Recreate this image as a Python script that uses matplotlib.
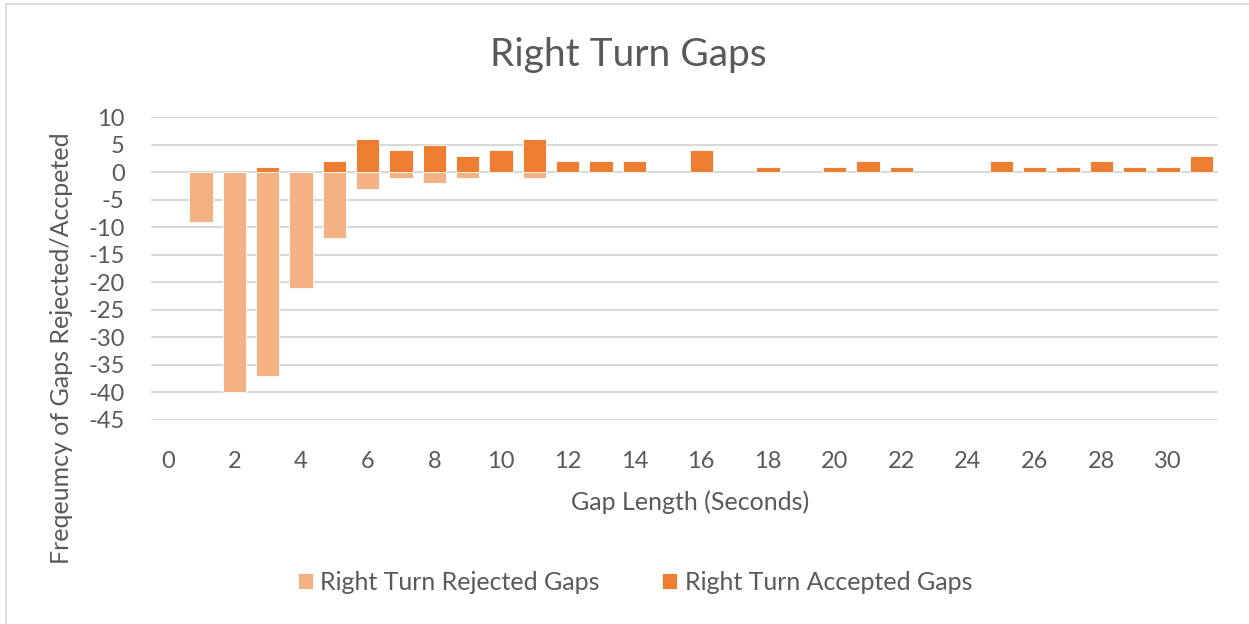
import numpy as np
import matplotlib.pyplot as plt
from matplotlib.lines import Line2D

plt.rcParams['font.family'] = ['Lato', 'DejaVu Sans']
plt.rcParams['axes.unicode_minus'] = False

# gap length categories 0..31 seconds
gaps = list(range(32))
rejected = [0, -9, -40, -37, -21, -12, -3, -1, -2, -1, 0, -1, 0, 0, 0, 0,
            0, 0, 0, 0, 0, 0, 0, 0, 0, 0, 0, 0, 0, 0, 0, 0]
accepted = [0, 0, 0, 1, 0, 2, 6, 4, 5, 3, 4, 6, 2, 2, 2, 0,
            4, 0, 1, 0, 1, 2, 1, 0, 0, 2, 1, 1, 2, 1, 1, 3]
xtick_pos = list(range(0, 31, 2))
yticks = list(range(-45, 11, 5))

text_col = '#595959'
grid_col = '#d9d9d9'

fig = plt.figure(figsize=(12.49, 6.24), dpi=100)
ax = fig.add_axes([151 / 1249, 1 - 420 / 624, (1218 - 151) / 1249, (420 - 117) / 624])

# zero-height bars are skipped so their white edges don't cut the zero line
rx = [g for g, v in zip(gaps, rejected) if v != 0]
rv = [v for v in rejected if v != 0]
axx = [g for g, v in zip(gaps, accepted) if v != 0]
av = [v for v in accepted if v != 0]

ax.bar(rx, rv, width=0.7, color='#f4b183', edgecolor='white', linewidth=0.6,
       zorder=3, label='Right Turn Rejected Gaps')
ax.bar(axx, av, width=0.7, color='#ed7d31', edgecolor='white', linewidth=0.6,
       zorder=3, label='Right Turn Accepted Gaps')

ax.set_xlim(-0.5, 31.5)
ax.set_ylim(-45, 10)
ax.set_yticks(yticks)
ax.set_xticks(xtick_pos)
ax.set_xticklabels([str(v) for v in xtick_pos])
ax.yaxis.grid(True, color=grid_col, linewidth=1.5, zorder=0)
ax.set_axisbelow(True)
for s in ax.spines.values():
    s.set_visible(False)
ax.tick_params(axis='both', length=0, labelsize=17, colors=text_col)
ax.tick_params(axis='x', pad=22)
ax.tick_params(axis='y', pad=19)

fig.text(628 / 1249, 1 - 55 / 624, 'Right Turn Gaps', ha='center', va='center',
         fontsize=28, color=text_col)
fig.text(690 / 1249, 1 - 502 / 624, 'Gap Length (Seconds)', ha='center', va='center',
         fontsize=18, color=text_col)
fig.text(62 / 1249, 1 - 348 / 624, 'Freqeumcy of Gaps Rejected/Accpeted', ha='center',
         va='center', rotation=90, fontsize=18, color=text_col)

fig.legend(loc='center', bbox_to_anchor=(635 / 1249, 1 - 582 / 624), ncol=2,
           frameon=False, fontsize=18, handlelength=0.6, handleheight=0.6,
           handletextpad=0.3, columnspacing=2.5, labelcolor=text_col)

# chart area border (top and left edges visible)
fig.add_artist(Line2D([6 / 1249, 1], [1 - 4 / 624, 1 - 4 / 624], color=grid_col, lw=1.2))
fig.add_artist(Line2D([6 / 1249, 6 / 1249], [0, 1 - 4 / 624], color=grid_col, lw=1.2))

fig.savefig('out.png', dpi=100)
